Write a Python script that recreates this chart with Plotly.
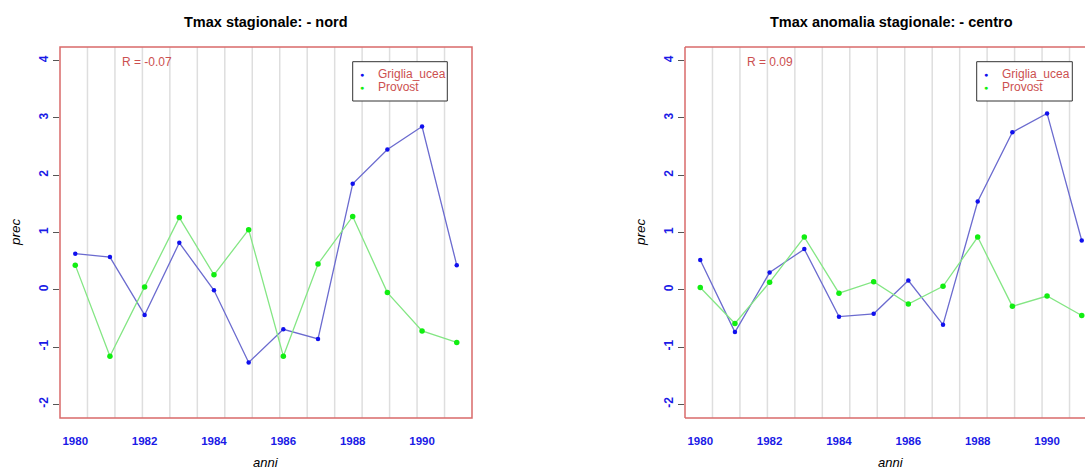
import plotly.graph_objects as go

# ---- data ----
anni = [1980, 1981, 1982, 1983, 1984, 1985, 1986, 1987, 1988, 1989, 1990, 1991]
nord_griglia = [0.63, 0.57, -0.44, 0.82, -0.01, -1.27, -0.69, -0.86, 1.85, 2.45, 2.85, 0.43]
nord_provost = [0.43, -1.16, 0.05, 1.26, 0.26, 1.05, -1.16, 0.45, 1.28, -0.05, -0.72, -0.92]
centro_griglia = [0.52, -0.74, 0.30, 0.71, -0.47, -0.42, 0.16, -0.61, 1.54, 2.75, 3.08, 0.86]
centro_provost = [0.04, -0.59, 0.13, 0.92, -0.06, 0.14, -0.25, 0.06, 0.92, -0.29, -0.11, -0.45]
titles = ["Tmax stagionale: - nord", "Tmax anomalia stagionale: - centro"]
r_labels = ["R = -0.07", "R = 0.09"]
series_names = ["Griglia_ucea", "Provost"]
x_ticks = [1980, 1982, 1984, 1986, 1988, 1990]
y_ticks = [-2, -1, 0, 1, 2, 3, 4]

W, H = 1085, 470
FRAME = "#d96a6a"
BLUE_LINE = "#6b6bcf"
BLUE_PT = "#1010ee"
GREEN_LINE = "#84e684"
GREEN_PT = "#11ee11"
TXT_RED = "#cc5050"
FONT = "Liberation Sans, Arial, sans-serif"


def px(x):
    return x / W


def py(y):
    return 1 - y / H


xmin, xmax_full = 1979.56, 1991.44
x_right_end = xmin + (W - 685) * (xmax_full - xmin) / 412.0

fig = go.Figure()

panels = [
    dict(xa="x", ya="y", g=nord_griglia, p=nord_provost),
    dict(xa="x2", ya="y2", g=centro_griglia, p=centro_provost),
]
for pn in panels:
    fig.add_trace(go.Scatter(x=anni, y=pn["g"], mode="lines+markers", xaxis=pn["xa"], yaxis=pn["ya"],
                             line=dict(color=BLUE_LINE, width=1.3),
                             marker=dict(color=BLUE_PT, size=4.5), showlegend=False, name=series_names[0]))
    fig.add_trace(go.Scatter(x=anni, y=pn["p"], mode="lines+markers", xaxis=pn["xa"], yaxis=pn["ya"],
                             line=dict(color=GREEN_LINE, width=1.3),
                             marker=dict(color=GREEN_PT, size=5.5, symbol="circle"), showlegend=False,
                             name=series_names[1]))

axis_common_x = dict(
    tickvals=x_ticks, ticktext=[str(v) for v in x_ticks],
    tickfont=dict(family=FONT, size=11.5, color="#1a1ae6", weight="bold"),
    ticks="outside", ticklen=12, tickcolor="rgba(0,0,0,0)",
    showgrid=False, zeroline=False, showline=False, fixedrange=True,
)
axis_common_y = dict(
    range=[-2.24, 4.24], tickvals=y_ticks, ticktext=[str(v) for v in y_ticks],
    tickfont=dict(family=FONT, size=12, color="#1a1ae6", weight="bold"),
    tickangle=-90, ticks="outside", ticklen=6, tickcolor="#555555", tickwidth=1,
    showgrid=False, zeroline=False, showline=False, fixedrange=True,
)

fig.update_layout(
    width=W, height=H,
    margin=dict(l=0, r=0, t=0, b=0),
    paper_bgcolor="white", plot_bgcolor="white",
    xaxis=dict(domain=[px(60), px(472)], range=[xmin, xmax_full], anchor="y", **axis_common_x),
    yaxis=dict(domain=[py(418), py(47)], anchor="x", **axis_common_y),
    xaxis2=dict(domain=[px(685), 1.0], range=[xmin, x_right_end], anchor="y2", **axis_common_x),
    yaxis2=dict(domain=[py(418), py(47)], anchor="x2", **axis_common_y),
    showlegend=False,
)

shapes = []
annotations = []
step = (xmax_full - xmin) / 15.0
for i, (xa, ya) in enumerate([("x", "y"), ("x2", "y2")]):
    # grid lines (R grid(15, NA))
    for k in range(1, 15):
        xv = xmin + k * step
        if xa == "x2" and xv > x_right_end:
            continue
        shapes.append(dict(type="line", xref=xa, yref=ya + " domain", x0=xv, x1=xv, y0=0, y1=1,
                           line=dict(color="#dedede", width=1.5), layer="below"))
    # frame
    if i == 0:
        shapes.append(dict(type="rect", xref="x domain", yref="y domain", x0=0, x1=1, y0=0, y1=1,
                           line=dict(color=FRAME, width=1.5), layer="above"))
    else:
        for (x0, y0, x1, y1) in [(0, 0, 0, 1), (0, 1, 1, 1), (0, 0, 1, 0)]:
            shapes.append(dict(type="line", xref="x2 domain", yref="y2 domain", x0=x0, x1=x1, y0=y0, y1=y1,
                               line=dict(color=FRAME, width=1.5), layer="above"))

# titles, axis labels, R text, legends
offs = [0, 625]
title_cx = [266, 891]
for i in range(2):
    o = offs[i]
    annotations.append(dict(text="<b>" + titles[i] + "</b>", x=px(title_cx[i]), y=py(22), xref="paper", yref="paper",
                            showarrow=False, xanchor="center", yanchor="middle",
                            font=dict(family=FONT, size=14.5, color="black")))
    annotations.append(dict(text="<i>prec</i>", x=px(15 + o), y=py(232), xref="paper", yref="paper",
                            showarrow=False, textangle=-90, xanchor="center", yanchor="middle",
                            font=dict(family=FONT, size=13.5, color="black")))
    annotations.append(dict(text="<i>anni</i>", x=px(266 + o), y=py(462), xref="paper", yref="paper",
                            showarrow=False, xanchor="center", yanchor="middle",
                            font=dict(family=FONT, size=13, color="black")))
    annotations.append(dict(text=r_labels[i], x=px(120 + o), y=py(62), xref="paper", yref="paper",
                            showarrow=False, xanchor="left", yanchor="middle",
                            font=dict(family=FONT, size=12, color=TXT_RED)))
    # legend box
    lx0 = 352.7 + o if i == 0 else 976.7
    lx1 = 447.3 + o if i == 0 else 1072.3
    shapes.append(dict(type="rect", xref="paper", yref="paper", x0=px(lx0), x1=px(lx1), y0=py(101), y1=py(61.7),
                       line=dict(color="#333333", width=1), fillcolor="white", layer="above"))
    for j, (nm, col, yy) in enumerate([(series_names[0], BLUE_PT, 74.3), (series_names[1], GREEN_PT, 87.3)]):
        annotations.append(dict(text="●", x=px(lx0 + 9), y=py(yy), xref="paper", yref="paper",
                                showarrow=False, xanchor="center", yanchor="middle",
                                font=dict(family=FONT, size=7, color=col)))
        annotations.append(dict(text=nm, x=px(lx0 + 23), y=py(yy), xref="paper", yref="paper",
                                showarrow=False, xanchor="left", yanchor="middle",
                                font=dict(family=FONT, size=12, color=TXT_RED)))

fig.update_layout(shapes=shapes, annotations=annotations)
fig.write_html("out.html", config={"displayModeBar": False},
               post_script="document.body.style.margin='0';document.body.style.padding='0';"
                           "document.body.style.overflow='hidden';")
